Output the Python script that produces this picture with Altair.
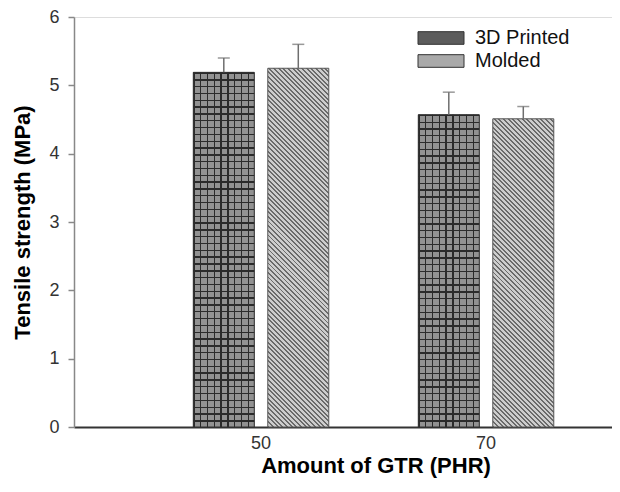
import math
import altair as alt
import pandas as pd

# ---- data ----
gtr_levels = ["50", "70"]
sample_types = ["3D Printed", "Molded"]
printed_mean = [5.19, 4.57]
printed_err = [0.21, 0.33]
molded_mean = [5.25, 4.51]
molded_err = [0.35, 0.18]

rows = []
for i, g in enumerate(gtr_levels):
    rows.append({"gtr": g, "type": sample_types[0], "mean": printed_mean[i],
                 "upper": printed_mean[i] + printed_err[i]})
    rows.append({"gtr": g, "type": sample_types[1], "mean": molded_mean[i],
                 "upper": molded_mean[i] + molded_err[i]})
df = pd.DataFrame(rows)

# ---- style ----
FONT = "Liberation Sans"
PLOT_W, PLOT_H = 538, 410
Y_MAX = 6
PX_PER_UNIT = PLOT_H / Y_MAX
BAR_W = 61


def stripes(n, frac, line, bg, geom):
    stops = []
    for k in range(n):
        a = k / n
        b = (k + frac) / n
        c = min((k + 1) / n, 1.0)
        stops += [
            {"offset": round(a, 5), "color": line},
            {"offset": round(b, 5), "color": line},
            {"offset": round(b, 5), "color": bg},
            {"offset": round(c, 5), "color": bg},
        ]
    g = {"gradient": "linear", "stops": stops}
    g.update(geom)
    return g


# crosshatch for 3D printed: horizontal lines (per bar height) + vertical lines
def hlines(mean):
    h = mean * PX_PER_UNIT
    n = max(1, round(h / 6.8))
    return stripes(n, 0.2, "#2b2b2b", "#929292", {"x1": 0, "y1": 0, "x2": 0, "y2": 1})


vlines = stripes(9, 0.2, "#2b2b2b", "rgba(0,0,0,0)", {"x1": 0, "y1": 0, "x2": 1, "y2": 0})


# diagonal hatch for molded
def diag(mean):
    h = mean * PX_PER_UNIT
    r = h / BAR_W
    t = (1 + r) / (1 + r * r)
    n = max(1, round((BAR_W + h) / math.sqrt(2) / 3.3))
    return stripes(n, 0.42, "#6a6a6a", "#cdcdcd",
                   {"x1": 0, "y1": 1, "x2": round(t, 5), "y2": round(1 - r * t, 5)})


x_enc = alt.X(
    "gtr:N",
    sort=gtr_levels,
    scale=alt.Scale(domain=gtr_levels, paddingInner=0.3978, paddingOuter=0.39445, align=0.6721),
    axis=alt.Axis(
        title="Amount of GTR (PHR)", labelAngle=0, ticks=False, tickSize=0, labelPadding=7,
        labelFontSize=18, labelFont=FONT, labelColor="#333", domainColor="#333", domainWidth=2,
        titleFontSize=22, titleFont=FONT, titleFontWeight="bold", titleColor="#000",
        titleX=301.5, titleY=45, titleBaseline="alphabetic", titleAlign="center", grid=False,
    ),
)
xo_enc = alt.XOffset(
    "type:N", sort=sample_types,
    scale=alt.Scale(domain=sample_types, paddingInner=0.181, paddingOuter=0),
)
y_axis = alt.Axis(
    title="Tensile strength (MPa)", values=[0, 1, 2, 3, 4, 5, 6], format="d",
    tickSize=6, tickColor="#888", tickWidth=1.5, domainColor="#888", domainWidth=1.5,
    labelPadding=9, labelFontSize=18, labelColor="#333", labelFont=FONT,
    titleFontSize=22, titleFont=FONT, titleFontWeight="bold", titleColor="#000",
    titleX=-45, titleBaseline="alphabetic", grid=False,
)
y_scale = alt.Scale(domain=[0, Y_MAX], nice=False, zero=True)
y_mean = alt.Y("mean:Q", scale=y_scale, axis=y_axis)

legend = alt.Legend(
    title=None, orient="none", legendX=355, legendY=9,
    symbolType="M-2,-0.55H2V0.55H-2Z", symbolSize=529,
    symbolStrokeColor="#333", symbolStrokeWidth=1, symbolOpacity=1,
    labelFontSize=20, labelFont=FONT, labelColor="#111", labelOffset=22,
    rowPadding=1, padding=0, labelLimit=300,
)

base = alt.Chart(df)

legend_layer = base.mark_bar(strokeWidth=0).encode(
    x=x_enc, xOffset=xo_enc, y=y_mean,
    color=alt.Color("type:N", sort=sample_types,
                    scale=alt.Scale(domain=sample_types, range=["#5c5c5c", "#a9a9a9"]),
                    legend=legend),
)

printed_h = base.transform_filter(alt.datum.type == sample_types[0]).mark_bar(strokeWidth=0).encode(
    x=x_enc, xOffset=xo_enc, y=y_mean,
    fill=alt.condition(alt.datum.gtr == gtr_levels[0],
                       alt.value(hlines(printed_mean[0])), alt.value(hlines(printed_mean[1]))),
)

printed_v = base.transform_filter(alt.datum.type == sample_types[0]).mark_bar(
    fill=vlines, stroke="#303030", strokeWidth=1
).encode(x=x_enc, xOffset=xo_enc, y=y_mean)

molded = base.transform_filter(alt.datum.type == sample_types[1]).mark_bar(
    stroke="#5a5a5a", strokeWidth=1
).encode(
    x=x_enc, xOffset=xo_enc, y=y_mean,
    fill=alt.condition(alt.datum.gtr == gtr_levels[0],
                       alt.value(diag(molded_mean[0])), alt.value(diag(molded_mean[1]))),
)

err_rule = base.mark_rule(color="#6e6e6e", strokeWidth=1.5).encode(
    x=x_enc, xOffset=xo_enc, y=y_mean, y2="upper:Q",
)
err_cap = base.mark_tick(color="#6e6e6e", thickness=1.5, size=12).encode(
    x=x_enc, xOffset=xo_enc, y=alt.Y("upper:Q", scale=y_scale, axis=y_axis),
)

chart = alt.layer(legend_layer, printed_h, printed_v, molded, err_rule, err_cap).properties(
    width=PLOT_W, height=PLOT_H,
    padding={"left": 66, "top": 9, "right": 0, "bottom": 51},
    autosize=alt.AutoSizeParams(type="none"),
).configure_view(stroke=None).configure(font=FONT, background="white")

chart.save("out.html", embed_options={"renderer": "svg", "actions": False})
